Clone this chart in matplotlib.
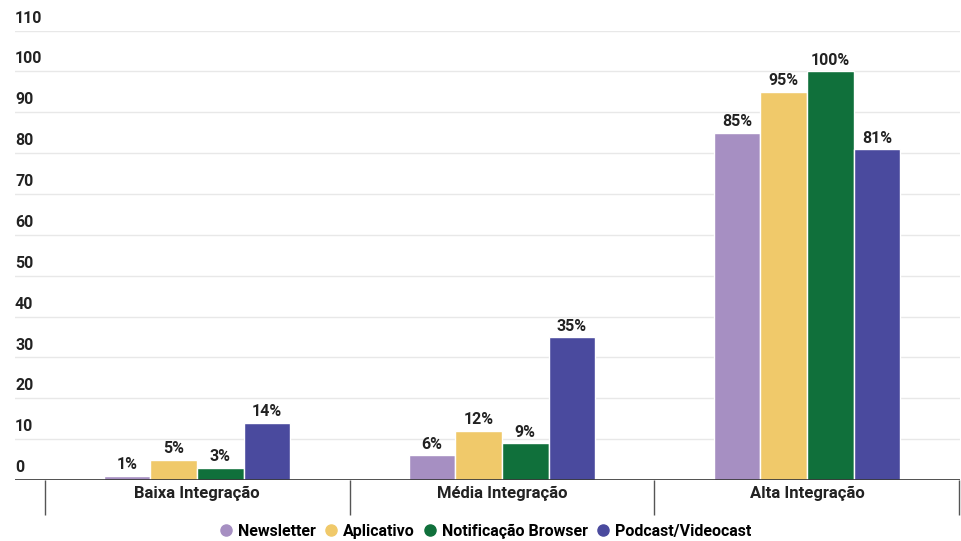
import matplotlib.pyplot as plt
from matplotlib.lines import Line2D
import numpy as np

plt.rcParams['font.family'] = ['Roboto', 'DejaVu Sans']

categorias = ['Baixa Integração', 'Média Integração', 'Alta Integração']
series = ['Newsletter', 'Aplicativo', 'Notificação Browser', 'Podcast/Videocast']
newsletter = [1, 6, 85]
aplicativo = [5, 12, 95]
notificacao = [3, 9, 100]
podcast = [14, 35, 81]
cores = ['#A68FC2', '#F0C96A', '#10703B', '#4A4A9E']
yticks = list(range(0, 111, 10))

valores = [newsletter, aplicativo, notificacao, podcast]
peso = 'semibold'

W, H = 961, 541
fig = plt.figure(figsize=(W / 100, H / 100), dpi=100)
# eixo de 15px a 960px na horizontal, de 30.5px a 480px na vertical
ax = fig.add_axes([15 / W, (H - 480) / H, 945 / W, (480 - 30.5) / H])

x = np.arange(len(categorias))
largura = 0.153
for i, (vals, cor) in enumerate(zip(valores, cores)):
    pos = x + (i - 1.5) * largura
    barras = ax.bar(pos, vals, width=largura, color=cor, edgecolor='white',
                    linewidth=1, zorder=3)
    for b, v in zip(barras, vals):
        ax.annotate(f'{v}%', (b.get_x() + b.get_width() / 2, v),
                    xytext=(0, 2.5), textcoords='offset points',
                    ha='center', va='bottom', fontsize=11.5,
                    fontweight=peso, color='#222222')

ax.set_ylim(0, 110)

# grade horizontal e rótulos acima das linhas
for t in yticks:
    if t > 0:
        ax.axhline(t, color='#e8e8e8', linewidth=1, zorder=1)
    ax.text(0, t + 1.2, str(t), transform=ax.get_yaxis_transform(),
            ha='left', va='bottom', fontsize=11.5, fontweight=peso,
            color='#222222')
ax.axhline(0, color='#333333', linewidth=1.2, zorder=4)

for s in ax.spines.values():
    s.set_visible(False)
ax.set_yticks([])

# separadores das categorias
ax.set_xticks([-0.5, 0.5, 1.5, 2.499], minor=False)
ax.set_xticklabels([])
ax.tick_params(axis='x', length=25, width=1, color='#555555')
ax.set_xticks(x, minor=True)
ax.set_xticklabels(categorias, minor=True, fontsize=12, fontweight=peso,
                   color='#222222')
ax.tick_params(axis='x', which='minor', length=0, pad=4)
ax.set_xlim(-0.597, 2.502)

handles = [Line2D([0], [0], marker='o', linestyle='', markersize=8,
                  markerfacecolor=c, markeredgecolor=c) for c in cores]
fig.legend(handles, series, loc='center', bbox_to_anchor=(485 / W, 1 - 531 / H),
           ncol=4, frameon=False, handletextpad=0.25,
           columnspacing=0.45, handlelength=1.0,
           prop={'weight': peso, 'size': 11.5})

fig.savefig('out.png', dpi=100, facecolor='white')
